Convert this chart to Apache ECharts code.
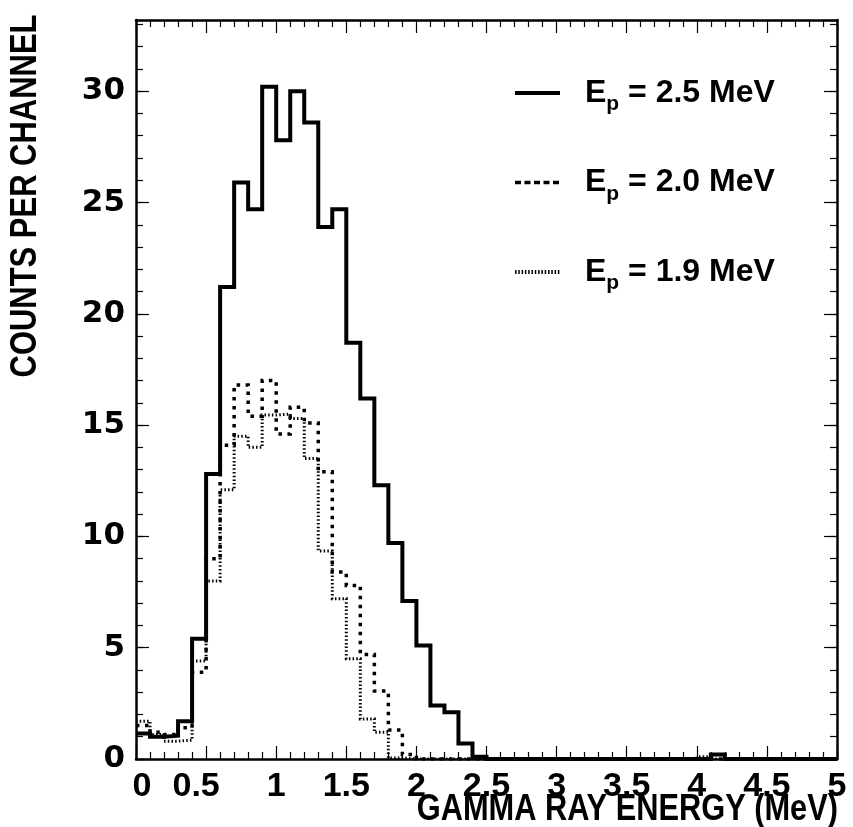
<!DOCTYPE html>
<html>
<head>
<meta charset="utf-8">
<script src="https://cdn.jsdelivr.net/npm/echarts@6/dist/echarts.min.js"></script>
<style>
  html, body { margin: 0; padding: 0; background: #fff; }
  #chart { width: 853px; height: 827px; }
</style>
</head>
<body>
<div id="chart"></div>
<script>
// Histogram binning: 50 channels of 0.1 MeV from 0 to 5 MeV
const binStart = 0;
const binWidth = 0.1;

// Proton beam energies (MeV) for the three spectra
const beamEnergies = ['2.5', '2.0', '1.9'];

// Counts per channel, one value per 0.1 MeV bin
const counts25 = [
  1.15, 1.0, 1.05, 1.7, 5.4, 12.8, 21.2, 25.9, 24.7, 30.2,
  27.8, 30.0, 28.6, 23.9, 24.7, 18.7, 16.2, 12.3, 9.7, 7.1,
  5.1, 2.4, 2.1, 0.7, 0.1, 0, 0, 0, 0, 0,
  0, 0, 0, 0, 0, 0, 0, 0, 0, 0,
  0, 0.2, 0, 0, 0, 0, 0, 0, 0, 0
];
const counts20 = [
  1.5, 1.2, 1.1, 1.4, 3.9, 9.0, 14.1, 16.8, 15.4, 17.0,
  14.6, 15.8, 15.1, 12.9, 8.4, 7.8, 4.7, 3.05, 1.3, 0.2,
  0, 0, 0, 0, 0, 0, 0, 0, 0, 0,
  0, 0, 0, 0, 0, 0, 0, 0, 0, 0,
  0, 0, 0, 0, 0, 0, 0, 0, 0, 0
];
const counts19 = [
  1.7, 1.1, 0.8, 0.85, 4.4, 8.0, 12.1, 14.5, 14.0, 15.45,
  15.5, 15.3, 13.5, 9.35, 7.2, 4.5, 1.8, 1.2, 0.05, 0,
  0, 0, 0, 0, 0, 0, 0, 0, 0, 0,
  0, 0, 0, 0, 0, 0, 0, 0, 0, 0,
  0.1, 0, 0, 0, 0, 0, 0, 0, 0, 0
];

// Axis ranges and tick labels
const xTicks = ['0', '0.5', '1', '1.5', '2', '2.5', '3', '3.5', '4', '4.5', '5'];
const yTicks = ['0', '5', '10', '15', '20', '25', '30'];
const xMax = 5;
const yMax = 33.2;

const xTitle = 'GAMMA RAY ENERGY (MeV)';
const yTitle = 'COUNTS PER CHANNEL';

// Turn a list of bin contents into step-line points at the bin edges
function histPoints(values) {
  const pts = values.map((v, i) => [+(binStart + i * binWidth).toFixed(2), v]);
  pts.push([+(binStart + values.length * binWidth).toFixed(2), values[values.length - 1]]);
  return pts;
}

const ink = '#000';
const frameW = 2.5;
const labelFont = 'Liberation Sans, Arial, sans-serif';

// First two energy labels sit slightly nudged away from the corner
function xLabel(v) {
  const i = Math.round(v / 0.5);
  const t = xTicks[i] ?? '';
  if (i === 0) return '{r|' + t + '}';
  if (i === 1) return '{l|' + t + '}';
  return t;
}

function xAxisDef(pos, showLabels) {
  const lab = { fontFamily: labelFont, fontWeight: 'bold', fontSize: 34, color: ink };
  return {
    type: 'value', position: pos, min: 0, max: xMax, interval: 0.5,
    axisLine: { show: true, onZero: false, lineStyle: { color: ink, width: frameW } },
    axisTick: { show: true, inside: true, length: 13, lineStyle: { color: ink, width: 1.2 } },
    minorTick: { show: true, splitNumber: 5, length: 7, lineStyle: { color: ink, width: 1.2 } },
    splitLine: { show: false },
    axisLabel: Object.assign({
      show: showLabels, margin: 11, formatter: xLabel,
      rich: {
        r: Object.assign({ padding: [0, 0, 0, 12] }, lab),
        l: Object.assign({ padding: [0, 20, 0, 0] }, lab)
      }
    }, lab)
  };
}

function yAxisDef(pos, major, showLabels) {
  return {
    type: 'value', position: pos, min: 0, max: yMax, interval: major ? 5 : 1,
    axisLine: { show: major, onZero: false, lineStyle: { color: ink, width: frameW } },
    axisTick: { show: true, inside: true, length: major ? 13 : 7, lineStyle: { color: ink, width: 1.2 } },
    splitLine: { show: false },
    axisLabel: {
      show: showLabels, showMaxLabel: false, margin: 11, color: ink,
      fontFamily: 'DejaVu Sans, sans-serif', fontWeight: 'bold', fontSize: 31,
      formatter: v => yTicks[Math.round(v / 5)] ?? ''
    }
  };
}

const xAxes = [xAxisDef('bottom', true), xAxisDef('top', false)];
const yAxes = [
  yAxisDef('left', true, true), yAxisDef('left', false, false),
  yAxisDef('right', true, false), yAxisDef('right', false, false)
];

// Line styles: solid, square-dotted, fine-dotted
const styles = [
  { width: 4, type: 'solid' },
  { width: 3.5, type: [3.5, 5.5] },
  { width: 3, type: [1.5, 2.2] }
];
const legendStyles = [
  { width: 4, type: 'solid' },
  { width: 3.5, type: [6, 3.5] },
  { width: 4, type: [1.5, 1.8] }
];
const datasets = [counts25, counts20, counts19];
const names = beamEnergies.map(e => 'Ep' + e);

const series = datasets.map((vals, k) => ({
  name: names[k],
  type: 'line',
  step: 'end',
  symbol: 'none',
  xAxisIndex: 0,
  yAxisIndex: 0,
  data: histPoints(vals),
  lineStyle: { color: ink, width: styles[k].width, type: styles[k].type, cap: 'butt', join: 'miter' },
  itemStyle: { color: ink },
  z: 3 - k
}));

const chart = echarts.init(document.getElementById('chart'), null, { renderer: 'canvas' });
chart.setOption({
  animation: false,
  backgroundColor: '#fff',
  grid: { left: 136, right: 16, top: 20, bottom: 68, containLabel: false, outerBoundsMode: 'none' },
  xAxis: xAxes,
  yAxis: yAxes,
  legend: {
    orient: 'vertical',
    left: 513,
    top: 71,
    padding: 0,
    itemWidth: 45,
    itemHeight: 30,
    itemGap: 45.5,
    selectedMode: false,
    itemStyle: { opacity: 0 },
    data: names.map((n, k) => ({
      name: n,
      lineStyle: { color: ink, width: legendStyles[k].width, type: legendStyles[k].type, cap: 'butt' }
    })),
    formatter: name => {
      const e = beamEnergies[names.indexOf(name)];
      return '{e|E}{p|p}{t| = ' + e + ' MeV}';
    },
    textStyle: {
      color: ink,
      rich: {
        e: { fontFamily: labelFont, fontWeight: 'bold', fontSize: 32, lineHeight: 32, padding: [0, 0, 0, 20], color: ink },
        p: { fontFamily: labelFont, fontWeight: 'bold', fontSize: 21, lineHeight: 21, padding: [23, 0, 0, 0], color: ink },
        t: { fontFamily: labelFont, fontWeight: 'bold', fontSize: 32, lineHeight: 32, color: ink }
      }
    }
  },
  graphic: [
    {
      type: 'text', x: 838, y: 810, scaleX: 0.855,
      style: { text: xTitle, font: 'bold 36px Liberation Sans, Arial, sans-serif', fill: ink,
               textAlign: 'right', textVerticalAlign: 'middle' }
    },
    {
      type: 'text', x: 26, y: 196, rotation: Math.PI / 2, scaleX: 0.86,
      style: { text: yTitle, font: 'bold 36px Liberation Sans, Arial, sans-serif', fill: ink,
               textAlign: 'center', textVerticalAlign: 'middle' }
    }
  ],
  series: series
});
</script>
</body>
</html>
